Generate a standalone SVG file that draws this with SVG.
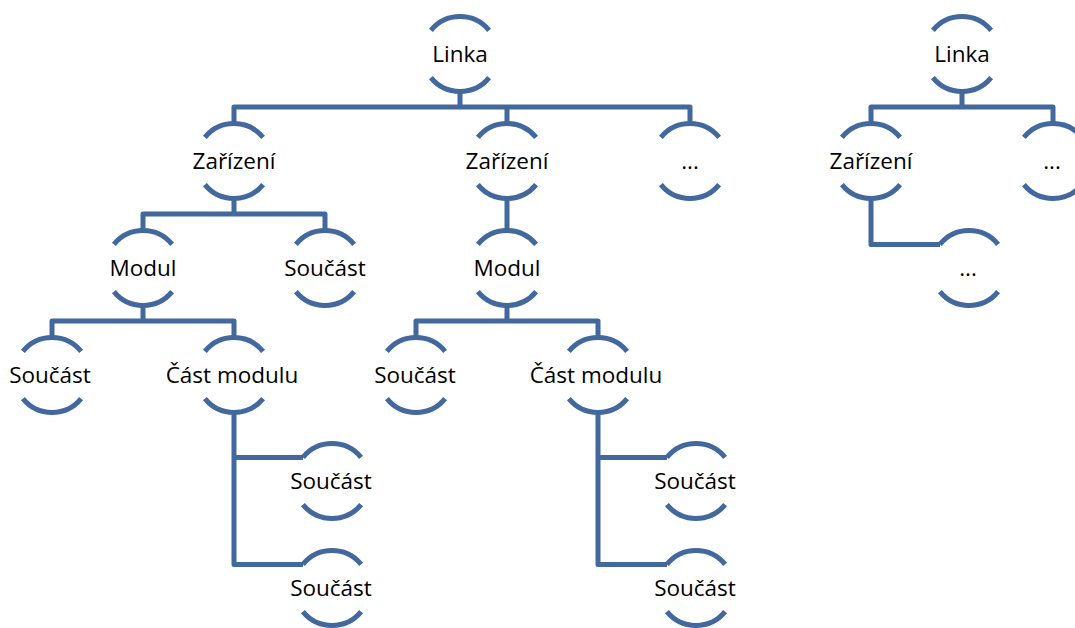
<svg xmlns="http://www.w3.org/2000/svg" xmlns:xlink="http://www.w3.org/1999/xlink" width="1075" height="628" viewBox="0 0 1075 628">
  <style>
    .ln { fill: none; stroke: #42689e; stroke-width: 5; stroke-linejoin: round; stroke-linecap: butt; }
    .lbl { font-family: "Open Sans", "Liberation Sans", sans-serif; font-size: 22.5px; fill: #000; text-anchor: middle; }
  </style>
  <defs>
    <!-- open ring: upper and lower arcs of a circle r=37.5, centred on 0,0 -->
    <g id="ring" class="ln">
      <path d="M-29.1 -23.6 A37.5 37.5 0 0 1 29.1 -23.6"/>
      <path d="M-29.1 23.6 A37.5 37.5 0 0 0 29.1 23.6"/>
    </g>
  </defs>
  <rect width="1075" height="628" fill="#fff"/>

  <g id="connectors" class="ln">
    <!-- main tree -->
    <path d="M460 91.5 V107 M234 123.5 V107 H690 V123.5 M507 107 V123.5"/>
    <path d="M234 198.5 V214 M143 230.5 V214 H325 V230.5"/>
    <path d="M507 198.5 V230.5"/>
    <path d="M143 305.5 V321 M52 337.5 V321 H234 V337.5"/>
    <path d="M507 305.5 V321 M416 337.5 V321 H598 V337.5"/>
    <path d="M234 412.5 V564.4 H303 M234 457.4 H303"/>
    <path d="M598 412.5 V564.4 H667 M598 457.4 H667"/>
    <!-- small tree -->
    <path d="M962 91.5 V107 M871 123.5 V107 H1053 V123.5"/>
    <path d="M871 197.5 V244.4 H940"/>
  </g>

  <g id="n-linka"><use xlink:href="#ring" x="460" y="54"/><text class="lbl" x="460" y="62">Linka</text></g>
  <g id="n-zarizeni-1"><use xlink:href="#ring" x="234" y="161"/><text class="lbl" x="234" y="169">Zařízení</text></g>
  <g id="n-zarizeni-2"><use xlink:href="#ring" x="507" y="161"/><text class="lbl" x="507" y="169">Zařízení</text></g>
  <g id="n-more-1"><use xlink:href="#ring" x="690" y="161"/><text class="lbl" x="690" y="169">...</text></g>
  <g id="n-modul-1"><use xlink:href="#ring" x="143" y="268"/><text class="lbl" x="143" y="276">Modul</text></g>
  <g id="n-soucast-1"><use xlink:href="#ring" x="325" y="268"/><text class="lbl" x="325" y="276">Součást</text></g>
  <g id="n-modul-2"><use xlink:href="#ring" x="507" y="268"/><text class="lbl" x="507" y="276">Modul</text></g>
  <g id="n-soucast-2"><use xlink:href="#ring" x="52" y="375"/><text class="lbl" x="50" y="383">Součást</text></g>
  <g id="n-cast-1"><use xlink:href="#ring" x="234" y="375"/><text class="lbl" x="232" y="383">Část modulu</text></g>
  <g id="n-soucast-3"><use xlink:href="#ring" x="416" y="375"/><text class="lbl" x="415" y="383">Součást</text></g>
  <g id="n-cast-2"><use xlink:href="#ring" x="598" y="375"/><text class="lbl" x="596" y="383">Část modulu</text></g>
  <g id="n-soucast-4"><use xlink:href="#ring" x="332" y="481"/><text class="lbl" x="331" y="489">Součást</text></g>
  <g id="n-soucast-5"><use xlink:href="#ring" x="332" y="588"/><text class="lbl" x="331" y="596">Součást</text></g>
  <g id="n-soucast-6"><use xlink:href="#ring" x="696" y="481"/><text class="lbl" x="695" y="489">Součást</text></g>
  <g id="n-soucast-7"><use xlink:href="#ring" x="696" y="588"/><text class="lbl" x="695" y="596">Součást</text></g>

  <g id="n-linka-b"><use xlink:href="#ring" x="962" y="54"/><text class="lbl" x="962" y="62">Linka</text></g>
  <g id="n-zarizeni-b"><use xlink:href="#ring" x="871" y="161"/><text class="lbl" x="871" y="169">Zařízení</text></g>
  <g id="n-more-b1"><use xlink:href="#ring" x="1053" y="161"/><text class="lbl" x="1052" y="169">...</text></g>
  <g id="n-more-b2"><use xlink:href="#ring" x="969" y="268"/><text class="lbl" x="968" y="276">...</text></g>
</svg>
